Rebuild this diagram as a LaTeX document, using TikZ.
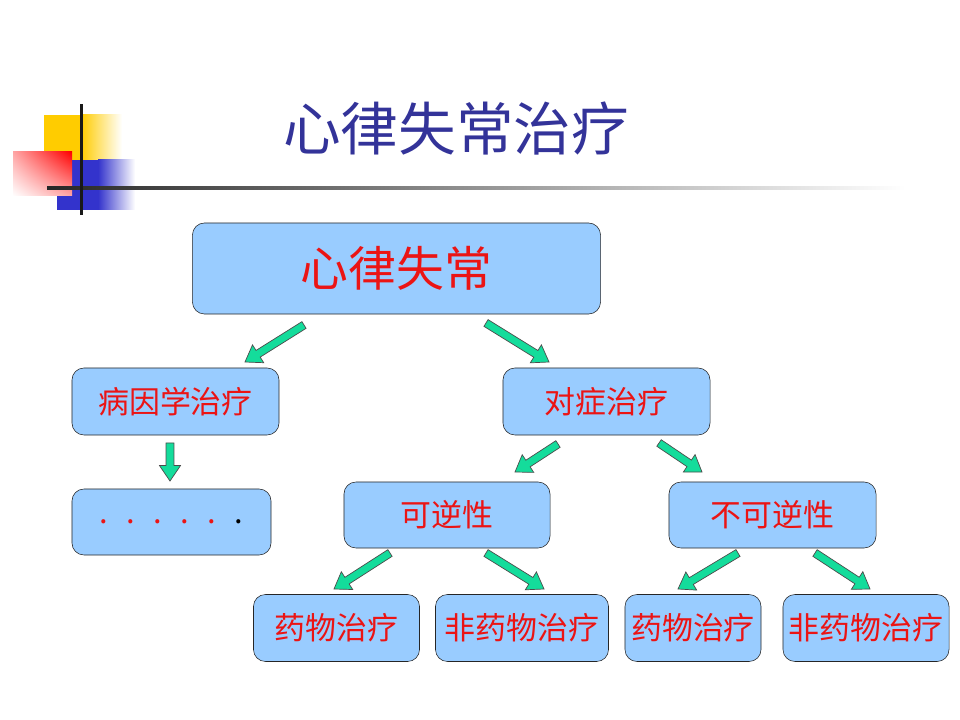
\documentclass[tikz,border=0pt]{standalone}
\usepackage{fontspec}
\setmainfont{Noto Sans CJK SC}
\usepackage{tikz}
\usetikzlibrary{calc}
\usetikzlibrary{shadings}
\definecolor{boxblue}{RGB}{153,204,255}
\definecolor{titleblue}{RGB}{51,51,153}
\definecolor{arrgreen}{RGB}{20,220,155}
\definecolor{redtext}{RGB}{235,20,20}
\definecolor{decoyellow}{RGB}{255,204,0}
\definecolor{decoblue}{RGB}{51,51,204}
\tikzset{
	box/.style={draw=black!85,fill=boxblue,rounded corners=0.3cm,thin,inner sep=0pt,
		text=redtext,font=\fontsize{22}{24}\selectfont},
	blockarrow/.style={draw=black!70,fill=arrgreen,line width=0.5pt,line join=miter}
}
% green block arrow between two named coordinates
\newcommand{\garrow}[2]{%
	\coordinate (nk) at ($(#2)!11pt!(#1)$);
	\draw[blockarrow] ($(#1)!2.8pt!90:(#2)$) -- ($(nk)!2.8pt!-90:(#1)$) -- ($(nk)!7.5pt!-90:(#1)$)
	-- (#2) -- ($(nk)!7.5pt!90:(#1)$) -- ($(nk)!2.8pt!90:(#1)$) -- ($(#1)!2.8pt!-90:(#2)$) -- cycle;}
\begin{document}
\begin{tikzpicture}[x=0.025cm,y=-0.025cm]
	\useasboundingbox (0,0) rectangle (960,720);
	%	decoration top left
	\fill[decoyellow] (44,115) rectangle (81,160);
	\shade[left color=decoyellow,right color=white] (81,115) rectangle (122,160);
	\fill[decoblue] (57,160) rectangle (98,210);
	\shade[left color=decoblue,right color=white] (98,160) rectangle (135,210);
	\shade[upper right=red,upper left=red!35!white,lower right=red!35!white,lower left=white] (13,152) rectangle (72,196);
	\shade[left color=black!85,middle color=black!65,right color=white] (47,186.5) rectangle (905,189.5);
	\fill[black!90] (80,104) rectangle (82.5,215);
	%	title
	\node (title) [text=titleblue,font=\fontsize{41}{44}\selectfont] at (456,129) {心律失常治疗};
	
	\node (top) [box,minimum width=10.2cm,minimum height=2.275cm,font=\fontsize{34}{36}\selectfont] at (396.5,268.5) {心律失常};
	\node (cause) [box,minimum width=5.175cm,minimum height=1.675cm] at (175.5,401.5) {病因学治疗};
	\node (symp) [box,minimum width=5.175cm,minimum height=1.675cm] at (606.5,401.5) {对症治疗};
	\node (dots) [box,minimum width=4.975cm,minimum height=1.65cm] at (171.5,522) {\textcolor{redtext}{.\hspace{13pt}.\hspace{13pt}.\hspace{13pt}.\hspace{13pt}.}\hspace{13pt}\textcolor{black}{.}\hspace{16pt}};
	\node (rev) [box,minimum width=5.15cm,minimum height=1.65cm] at (447,515) {可逆性};
	\node (irr) [box,minimum width=5.175cm,minimum height=1.65cm] at (772.5,515) {不可逆性};
	\node (drug1) [box,minimum width=4.15cm,minimum height=1.675cm] at (336.5,628) {药物治疗};
	\node (ndrug1) [box,minimum width=4.325cm,minimum height=1.675cm] at (522,628) {非药物治疗};
	\node (drug2) [box,minimum width=3.4cm,minimum height=1.675cm] at (693,628) {药物治疗};
	\node (ndrug2) [box,minimum width=4.15cm,minimum height=1.675cm] at (866,628) {非药物治疗};
	
	%	arrows
	\coordinate (a1s) at (304,325); \coordinate (a1e) at (245,362);
	\coordinate (a2s) at (486,323); \coordinate (a2e) at (549,362);
	\coordinate (a3s) at (170,443); \coordinate (a3e) at (170,481);
	\coordinate (a4s) at (558,444); \coordinate (a4e) at (515,472);
	\coordinate (a5s) at (659,443); \coordinate (a5e) at (702,472);
	\coordinate (a6s) at (390,553); \coordinate (a6e) at (334,589);
	\coordinate (a7s) at (486,553); \coordinate (a7e) at (544,589);
	\coordinate (a8s) at (738,553); \coordinate (a8e) at (678,589);
	\coordinate (a9s) at (815,553); \coordinate (a9e) at (870,589);
	\foreach \i in {1,...,9}
	{\garrow{a\i s}{a\i e}}
\end{tikzpicture}
\end{document}
